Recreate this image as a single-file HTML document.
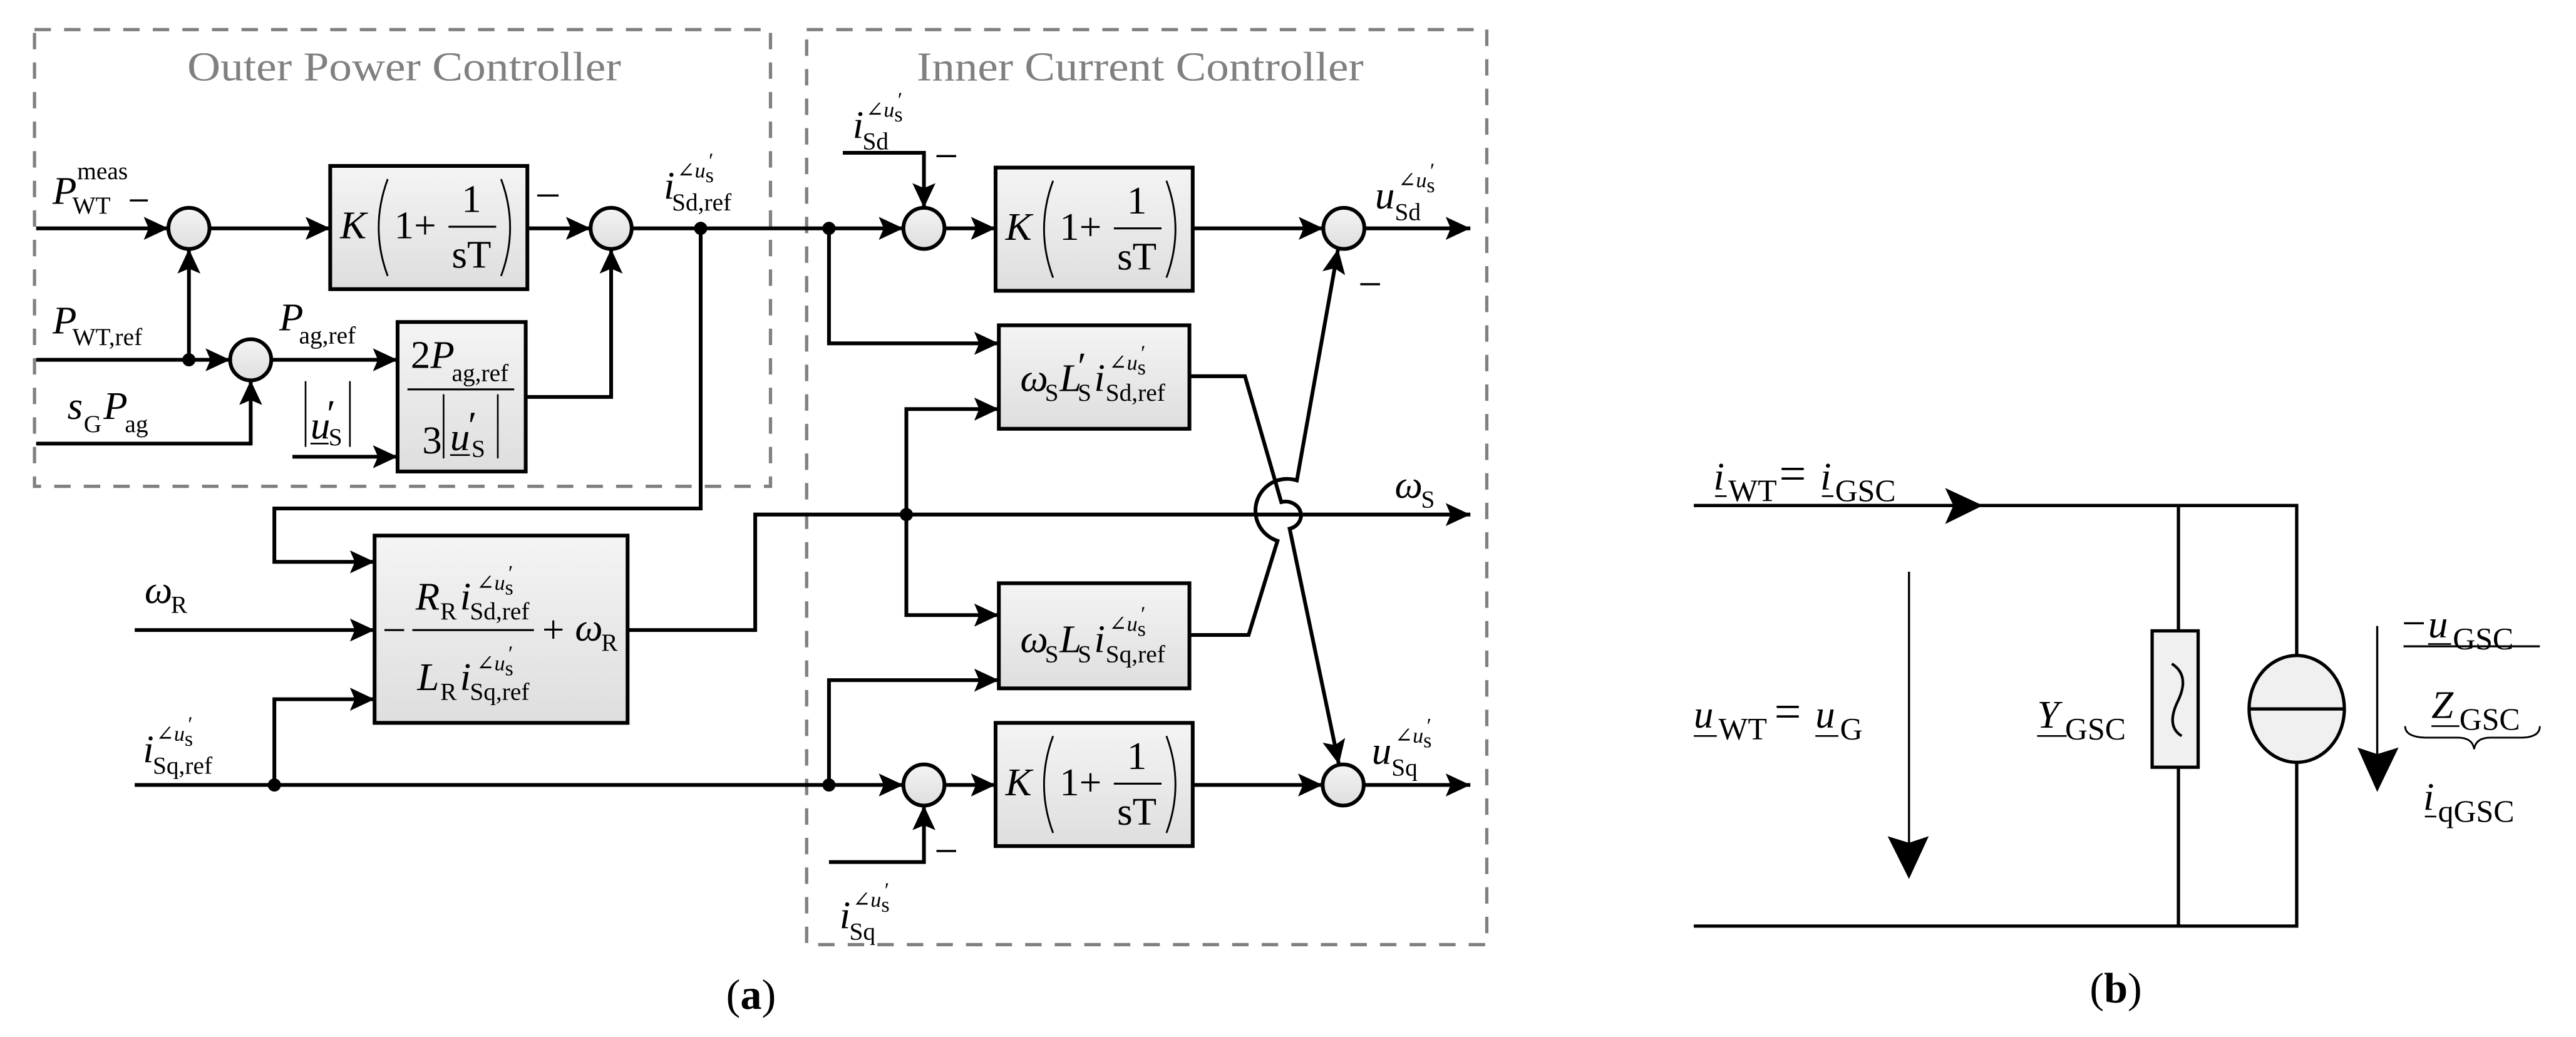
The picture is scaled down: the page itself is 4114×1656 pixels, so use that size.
<!DOCTYPE html>
<html><head><meta charset="utf-8"><style>
html,body{margin:0;padding:0;background:#fff;}
svg{display:block;font-family:"Liberation Serif","DejaVu Serif","Times New Roman",serif;}
text,tspan{font-family:"Liberation Serif","DejaVu Serif","Times New Roman",serif;}
text{fill:#000;}
.i{font-style:italic;font-size:24px;}
.n{font-size:24px;}
.s{font-size:15px;}
.p{font-size:13px;}
.t{font-size:25px;fill:#808080;}
.w{fill:none;stroke:#000;stroke-width:2.3;}
.thin{fill:none;stroke:#000;stroke-width:1.1;}
.bx{fill:url(#g);stroke:#000;stroke-width:2.3;}
.dash{fill:none;stroke:#808080;stroke-width:2;stroke-dasharray:10 8;}
</style></head><body>
<svg width="4114" height="1656" viewBox="0 0 1568 631.2" preserveAspectRatio="none" xmlns="http://www.w3.org/2000/svg" font-family="Liberation Serif, DejaVu Serif, serif">
<defs>
<linearGradient id="g" x1="0" y1="0" x2="0" y2="1"><stop offset="0" stop-color="#f4f4f4"/><stop offset="1" stop-color="#dedede"/></linearGradient>
<marker id="a" markerUnits="userSpaceOnUse" markerWidth="18" markerHeight="16" refX="15" refY="7" orient="auto" viewBox="0 0 18 16">
<path d="M0,0 L15,7 L0,14 L3,7 z" fill="#000"/></marker>
<g id="kpi">
<text class="i" x="6" y="44">K</text>
<path class="thin" d="M35,8 Q24,37.5 35,67"/>
<text class="n" x="39" y="44">1+</text>
<line x1="72" y1="37" x2="101" y2="37" stroke="#000" stroke-width="1.2"/>
<text class="n" x="80" y="28">1</text>
<text class="n" x="74" y="62">sT</text>
<path class="thin" d="M104,8 Q115,37.5 104,67"/>
</g>
</defs>
<rect width="1568" height="631.2" fill="#fff"/>

<rect class="dash" x="21" y="18" width="448" height="278"/>
<rect class="dash" x="491" y="18" width="414" height="557"/>
<text class="t" x="114" y="49" textLength="264" lengthAdjust="spacingAndGlyphs">Outer Power Controller</text>
<text class="t" x="558" y="49" textLength="272" lengthAdjust="spacingAndGlyphs">Inner Current Controller</text>

<rect class="bx" x="201" y="101" width="120" height="75"/>
<use href="#kpi" x="201" y="101"/>
<rect class="bx" x="606" y="102" width="120" height="75"/>
<use href="#kpi" x="606" y="102"/>
<rect class="bx" x="606" y="440" width="120" height="75"/>
<use href="#kpi" x="606" y="440"/>
<rect class="bx" x="242" y="196" width="78" height="91"/>
<rect class="bx" x="228" y="326" width="154" height="114"/>
<rect class="bx" x="608" y="198" width="116" height="63"/>
<rect class="bx" x="608" y="355" width="116" height="64"/>

<g class="bx">
<circle cx="115" cy="139" r="12.5"/>
<circle cx="372" cy="139" r="12.5"/>
<circle cx="152.6" cy="219" r="12.5"/>
<circle cx="562.4" cy="139" r="12.5"/>
<circle cx="818" cy="139" r="12.5"/>
<circle cx="562.4" cy="477.8" r="12.5"/>
<circle cx="817.6" cy="477.8" r="12.5"/>
</g>

<g class="w" marker-end="url(#a)">
<path d="M22,139 H102.5"/>
<path d="M127.5,139 H201"/>
<path d="M321,139 H359.5"/>
<path d="M384.5,139 H549.9"/>
<path d="M574.9,139 H606"/>
<path d="M726,139 H805.5"/>
<path d="M830.5,139 H895"/>
<path d="M115,219 V151.5"/>
<path d="M22,219 H140.1"/>
<path d="M165.1,219 H242"/>
<path d="M22,270 H152.6 V231.5"/>
<path d="M178,278 H242"/>
<path d="M320,241.6 H372 V151.5"/>
<path d="M426.5,139 V309.5 H167 V342 H228"/>
<path d="M82,383.5 H228"/>
<path d="M82,477.8 H549.9"/>
<path d="M167,477.8 V425.6 H228"/>
<path d="M382,383.5 H459.7 V313.2 H895"/>
<path d="M551.7,313.2 V249 H608"/>
<path d="M551.7,313.2 V374.4 H608"/>
<path d="M504.6,139 V209 H608"/>
<path d="M504.6,477.8 V414 H608"/>
<path d="M513,93 H562.4 V126.5"/>
<path d="M504.6,524.7 H562.4 V490.3"/>
<path d="M574.9,477.8 H606"/>
<path d="M726,477.8 H805.1"/>
<path d="M830.1,477.8 H895"/>
<path d="M724,229 H757.8 L779.9,305.6 A9,8 0 0 1 785,321.8 L815,465.3"/>
<path d="M724,386.5 H760 L777.6,329.2 A17,17 0 0 1 789.4,292.4 L814.5,151.5"/>
</g>
<g fill="#000">
<circle cx="115" cy="219" r="4"/>
<circle cx="426.5" cy="139" r="4"/>
<circle cx="504.6" cy="139" r="4"/>
<circle cx="551.7" cy="313.2" r="4"/>
<circle cx="167" cy="477.8" r="4"/>
<circle cx="504.6" cy="477.8" r="4"/>
</g>

<g stroke="#000" stroke-width="1.3">
<line x1="79" y1="122" x2="90" y2="122"/>
<line x1="327" y1="119" x2="340" y2="119"/>
<line x1="570" y1="95" x2="582" y2="95"/>
<line x1="828" y1="173" x2="840" y2="173"/>
<line x1="570" y1="518" x2="582" y2="518"/>
</g>

<text x="32" y="124"><tspan class="i">P</tspan><tspan class="s" x="47" y="109">meas</tspan><tspan class="s" x="44" y="130">WT</tspan></text>
<text x="32" y="203"><tspan class="i">P</tspan><tspan class="s" x="44" y="210">WT,ref</tspan></text>
<text x="170" y="201"><tspan class="i">P</tspan><tspan class="s" x="182" y="209">ag,ref</tspan></text>
<text x="41" y="255"><tspan class="i">s</tspan><tspan class="s" x="51" y="263">G</tspan><tspan class="i" x="63" y="255">P</tspan><tspan class="s" x="76" y="263">ag</tspan></text>
<g stroke="#000" stroke-width="1"><line x1="186" y1="232" x2="186" y2="272"/><line x1="213" y1="232" x2="213" y2="272"/></g>
<text x="189" y="267"><tspan class="i">u</tspan><tspan class="n" x="199" y="260" font-size="18">′</tspan><tspan class="s" x="200" y="271">S</tspan></text>
<line x1="189" y1="270" x2="200" y2="270" stroke="#000" stroke-width="1"/>
<text x="404" y="121"><tspan class="i">i</tspan><tspan class="p" x="412" y="108">∠</tspan><tspan class="p" font-style="italic">u</tspan><tspan class="p" font-size="9" dy="3">s</tspan><tspan class="p" dx="-3" dy="-9">′</tspan><tspan class="s" x="409" y="128">Sd,ref</tspan></text>

<text x="250" y="224"><tspan class="n">2</tspan><tspan class="i">P</tspan><tspan class="s" x="275" y="232">ag,ref</tspan></text>
<line x1="248" y1="237" x2="313" y2="237" stroke="#000" stroke-width="1.2"/>
<text class="n" x="257" y="276">3</text>
<g stroke="#000" stroke-width="1"><line x1="270" y1="240" x2="270" y2="279"/><line x1="303" y1="240" x2="303" y2="279"/></g>
<text x="274" y="274"><tspan class="i">u</tspan><tspan class="n" x="285" y="267" font-size="18">′</tspan><tspan class="s" x="287" y="278">S</tspan></text>
<line x1="274" y1="277" x2="286" y2="277" stroke="#000" stroke-width="1"/>

<line x1="234" y1="383.5" x2="246" y2="383.5" stroke="#000" stroke-width="1.2"/>
<text x="253" y="371"><tspan class="i">R</tspan><tspan class="s" x="268" y="377">R</tspan><tspan class="i" x="280" y="371">i</tspan><tspan class="p" x="290" y="359">∠</tspan><tspan class="p" font-style="italic">u</tspan><tspan class="p" font-size="9" dy="3">s</tspan><tspan class="p" dx="-3" dy="-9">′</tspan><tspan class="s" x="286" y="377">Sd,ref</tspan></text>
<line x1="251" y1="383.5" x2="325" y2="383.5" stroke="#000" stroke-width="1.2"/>
<text x="254" y="420"><tspan class="i">L</tspan><tspan class="s" x="268" y="426">R</tspan><tspan class="i" x="280" y="420">i</tspan><tspan class="p" x="290" y="408">∠</tspan><tspan class="p" font-style="italic">u</tspan><tspan class="p" font-size="9" dy="3">s</tspan><tspan class="p" dx="-3" dy="-9">′</tspan><tspan class="s" x="286" y="426">Sq,ref</tspan></text>
<text class="n" x="330" y="391">+</text>
<text x="350" y="390"><tspan class="i">ω</tspan><tspan class="s" x="366" y="396">R</tspan></text>

<text x="88" y="367"><tspan class="i">ω</tspan><tspan class="s" x="104" y="373">R</tspan></text>
<text x="87" y="464"><tspan class="i">i</tspan><tspan class="p" x="95" y="451">∠</tspan><tspan class="p" font-style="italic">u</tspan><tspan class="p" font-size="9" dy="3">s</tspan><tspan class="p" dx="-3" dy="-9">′</tspan><tspan class="s" x="93" y="471">Sq,ref</tspan></text>

<text x="519" y="84"><tspan class="i">i</tspan><tspan class="p" x="527" y="71">∠</tspan><tspan class="p" font-style="italic">u</tspan><tspan class="p" font-size="9" dy="3">s</tspan><tspan class="p" dx="-3" dy="-9">′</tspan><tspan class="s" x="525" y="91">Sd</tspan></text>
<text x="511" y="565"><tspan class="i">i</tspan><tspan class="p" x="519" y="552">∠</tspan><tspan class="p" font-style="italic">u</tspan><tspan class="p" font-size="9" dy="3">s</tspan><tspan class="p" dx="-3" dy="-9">′</tspan><tspan class="s" x="517" y="572">Sq</tspan></text>
<text x="837" y="127"><tspan class="i">u</tspan><tspan class="p" x="851" y="114">∠</tspan><tspan class="p" font-style="italic">u</tspan><tspan class="p" font-size="9" dy="3">s</tspan><tspan class="p" dx="-3" dy="-9">′</tspan><tspan class="s" x="849" y="134">Sd</tspan></text>
<text x="835" y="465"><tspan class="i">u</tspan><tspan class="p" x="849" y="452">∠</tspan><tspan class="p" font-style="italic">u</tspan><tspan class="p" font-size="9" dy="3">s</tspan><tspan class="p" dx="-3" dy="-9">′</tspan><tspan class="s" x="847" y="472">Sq</tspan></text>
<text x="849" y="303"><tspan class="i">ω</tspan><tspan class="s" x="865" y="309">S</tspan></text>

<text x="621" y="238"><tspan class="i">ω</tspan><tspan class="s" x="636" y="244">S</tspan><tspan class="i" x="645" y="238">L</tspan><tspan class="n" font-size="16" x="656" y="231">′</tspan><tspan class="s" x="656" y="244">S</tspan><tspan class="i" x="666" y="238">i</tspan><tspan class="p" x="675" y="225">∠</tspan><tspan class="p" font-style="italic">u</tspan><tspan class="p" font-size="9" dy="3">s</tspan><tspan class="p" dx="-3" dy="-9">′</tspan><tspan class="s" x="673" y="244">Sd,ref</tspan></text>
<text x="621" y="397"><tspan class="i">ω</tspan><tspan class="s" x="636" y="403">S</tspan><tspan class="i" x="645" y="397">L</tspan><tspan class="s" x="656" y="403">S</tspan><tspan class="i" x="666" y="397">i</tspan><tspan class="p" x="675" y="384">∠</tspan><tspan class="p" font-style="italic">u</tspan><tspan class="p" font-size="9" dy="3">s</tspan><tspan class="p" dx="-3" dy="-9">′</tspan><tspan class="s" x="673" y="403">Sq,ref</tspan></text>

<text x="442" y="614" font-size="26"><tspan>(</tspan><tspan font-weight="bold">a</tspan><tspan>)</tspan></text>

<g fill="none" stroke="#000" stroke-width="2">
<path d="M1031,307.7 H1398 V399"/>
<path d="M1398,464 V563.7 H1031"/>
<path d="M1326,307.7 V384"/>
<path d="M1326,467 V563.7"/>
</g>
<path d="M1184,297 L1207,307.7 L1184,319 L1189,307.7 z" fill="#000"/>
<rect x="1310" y="384" width="28" height="83" fill="#f0f0f0" stroke="#000" stroke-width="2"/>
<path d="M1322,404 Q1333,411 1326,426 Q1318,442 1328,448" fill="none" stroke="#000" stroke-width="1.6"/>
<ellipse cx="1398" cy="431.5" rx="29" ry="32.5" fill="#f0f0f0" stroke="#000" stroke-width="2"/>
<line x1="1369" y1="431.5" x2="1427" y2="431.5" stroke="#000" stroke-width="2"/>
<line x1="1162" y1="348" x2="1162" y2="515" stroke="#000" stroke-width="1.3"/>
<path d="M1149,509 L1162,535 L1174,509 L1162,513 z" fill="#000"/>
<line x1="1447" y1="381" x2="1447" y2="460" stroke="#000" stroke-width="1.3"/>
<path d="M1435,455 L1447,482 L1460,455 L1447,459 z" fill="#000"/>

<text x="1043" y="298"><tspan class="i" font-size="29">i</tspan><tspan font-size="19" x="1052" y="305">WT</tspan><tspan font-size="29" x="1083" y="298">=</tspan><tspan class="i" font-size="29" x="1108" y="298">i</tspan><tspan font-size="19" x="1117" y="305">GSC</tspan></text>
<line x1="1044" y1="302" x2="1051" y2="302" stroke="#000" stroke-width="1"/>
<line x1="1109" y1="302" x2="1116" y2="302" stroke="#000" stroke-width="1"/>
<text x="1031" y="443"><tspan class="i" font-size="29">u</tspan><tspan font-size="19" x="1046" y="450">WT</tspan><tspan font-size="29" x="1080" y="443">=</tspan><tspan class="i" font-size="29" x="1105" y="443">u</tspan><tspan font-size="19" x="1120" y="450">G</tspan></text>
<line x1="1031" y1="448" x2="1045" y2="448" stroke="#000" stroke-width="1"/>
<line x1="1105" y1="448" x2="1119" y2="448" stroke="#000" stroke-width="1"/>
<text x="1240" y="443"><tspan class="i" font-size="29">Y</tspan><tspan font-size="19" x="1257" y="450">GSC</tspan></text>
<line x1="1240" y1="448" x2="1258" y2="448" stroke="#000" stroke-width="1"/>
<text x="1462" y="388"><tspan font-size="26">−</tspan><tspan class="i" font-size="29" x="1478">u</tspan><tspan font-size="19" x="1493" y="395">GSC</tspan></text>
<line x1="1478" y1="392" x2="1492" y2="392" stroke="#000" stroke-width="1"/>
<line x1="1463" y1="393.4" x2="1546" y2="393.4" stroke="#000" stroke-width="1.2"/>
<text x="1480" y="437"><tspan class="i" font-size="29">Z</tspan><tspan font-size="19" x="1497" y="444">GSC</tspan></text>
<line x1="1480" y1="442" x2="1497" y2="442" stroke="#000" stroke-width="1"/>
<path d="M1464,442 Q1464,449 1478,449 H1496 Q1505,449 1506,456 Q1507,449 1516,449 H1534 Q1546,449 1546,442" fill="none" stroke="#000" stroke-width="1.1"/>
<text x="1475" y="493"><tspan class="i" font-size="29">i</tspan><tspan font-size="19" x="1484" y="500">qGSC</tspan></text>
<line x1="1476" y1="497" x2="1483" y2="497" stroke="#000" stroke-width="1"/>
<text x="1272" y="610" font-size="26"><tspan>(</tspan><tspan font-weight="bold">b</tspan><tspan>)</tspan></text>
</svg>
</body></html>
